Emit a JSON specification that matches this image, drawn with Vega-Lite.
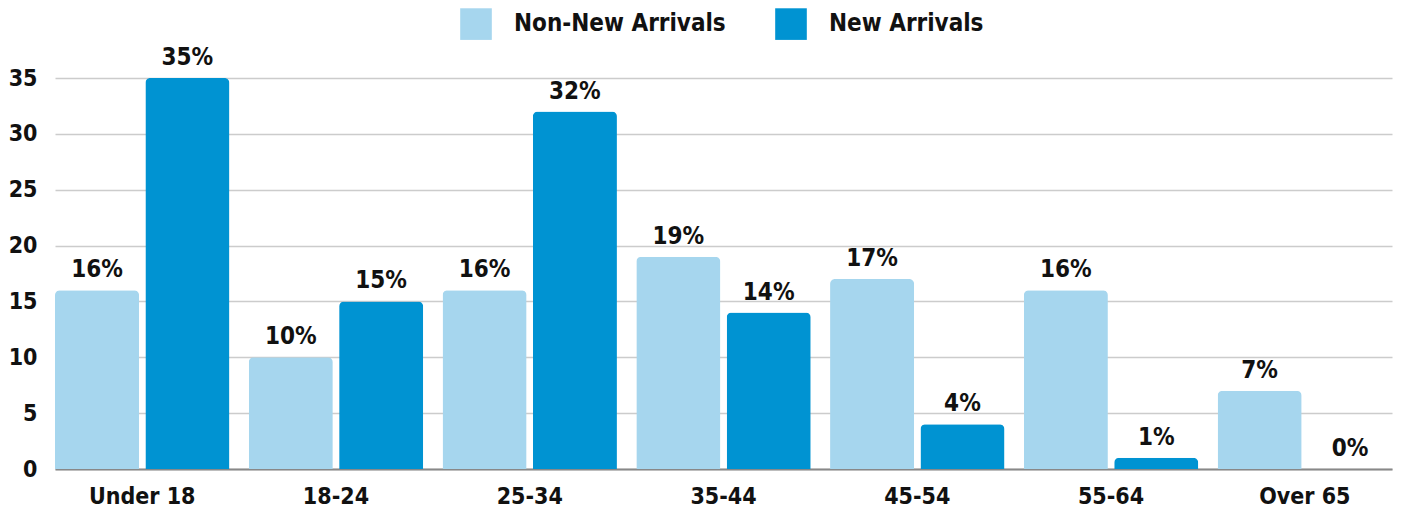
{
  "$schema": "https://vega.github.io/schema/vega-lite/v6.json",
  "width": 1337,
  "height": 391,
  "autosize": {"type": "none"},
  "padding": {"left": 55, "top": 78, "right": 9, "bottom": 45},
  "background": "white",
  "config": {
    "font": "DejaVu Sans Condensed",
    "view": {"stroke": null},
    "axis": {"labelFont": "DejaVu Sans Condensed", "labelFontWeight": "bold", "labelFontSize": 23, "labelColor": "#111111"}
  },
  "data": {
    "values": [
      {"age": "Under 18", "group": "Non-New Arrivals", "value": 16},
      {"age": "Under 18", "group": "New Arrivals", "value": 35},
      {"age": "18-24", "group": "Non-New Arrivals", "value": 10},
      {"age": "18-24", "group": "New Arrivals", "value": 15},
      {"age": "25-34", "group": "Non-New Arrivals", "value": 16},
      {"age": "25-34", "group": "New Arrivals", "value": 32},
      {"age": "35-44", "group": "Non-New Arrivals", "value": 19},
      {"age": "35-44", "group": "New Arrivals", "value": 14},
      {"age": "45-54", "group": "Non-New Arrivals", "value": 17},
      {"age": "45-54", "group": "New Arrivals", "value": 4},
      {"age": "55-64", "group": "Non-New Arrivals", "value": 16},
      {"age": "55-64", "group": "New Arrivals", "value": 1},
      {"age": "Over 65", "group": "Non-New Arrivals", "value": 7},
      {"age": "Over 65", "group": "New Arrivals", "value": 0}
    ]
  },
  "transform": [{"calculate": "datum.value + '%'", "as": "label"}],
  "encoding": {
    "x": {
      "field": "age", "type": "nominal", "sort": null, "title": null,
      "scale": {"paddingInner": 0.1, "paddingOuter": 0},
      "axis": {"labelAngle": 0, "ticks": false, "labelPadding": 16, "domainColor": "#888888", "domainWidth": 2}
    },
    "xOffset": {"field": "group", "type": "nominal", "sort": ["Non-New Arrivals", "New Arrivals"], "scale": {"paddingInner": 0.07, "paddingOuter": 0}},
    "y": {
      "field": "value", "type": "quantitative", "title": null,
      "scale": {"domain": [0, 35], "nice": false},
      "axis": {"values": [0, 5, 10, 15, 20, 25, 30, 35], "domain": false, "ticks": false, "labelPadding": 18, "gridColor": "#cccccc", "gridWidth": 1.5}
    }
  },
  "layer": [
    {
      "mark": {"type": "bar", "cornerRadiusTopLeft": 5, "cornerRadiusTopRight": 5},
      "encoding": {
        "color": {
          "field": "group", "type": "nominal",
          "scale": {"domain": ["Non-New Arrivals", "New Arrivals"], "range": ["#a6d6ee", "#0093d2"]},
          "legend": {
            "title": null, "orient": "none", "direction": "horizontal",
            "legendX": 405, "legendY": -70,
            "symbolType": "square", "symbolSize": 1000, "symbolStrokeWidth": 0,
            "labelFont": "DejaVu Sans Condensed", "labelFontWeight": "bold", "labelFontSize": 24, "labelColor": "#111111",
            "labelOffset": 22, "columnPadding": 49, "labelLimit": 400
          }
        }
      }
    },
    {
      "mark": {"type": "text", "baseline": "bottom", "dy": -8, "font": "DejaVu Sans Condensed", "fontWeight": "bold", "fontSize": 24, "color": "#111111"},
      "encoding": {"text": {"field": "label"}}
    }
  ]
}
